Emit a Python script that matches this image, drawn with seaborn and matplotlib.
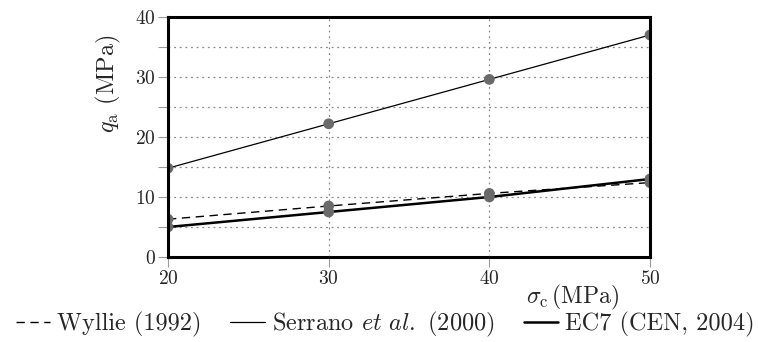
import matplotlib
matplotlib.use("Agg")
import matplotlib.pyplot as plt
import seaborn as sns
import pandas as pd
from matplotlib.ticker import MultipleLocator
from matplotlib.lines import Line2D

sigma_c = [20, 30, 40, 50]
wyllie = [6.3, 8.5, 10.6, 12.4]
serrano = [14.8, 22.2, 29.6, 37.0]
ec7 = [5.0, 7.5, 10.0, 13.0]
series_names = ["Wyllie (1992)", r"Serrano $\mathit{et\ al.}$ (2000)", "EC7 (CEN, 2004)"]

sns.set_style("white")
plt.rcParams["font.family"] = ["cmr10", "DejaVu Serif"]
plt.rcParams["mathtext.fontset"] = "cm"
plt.rcParams["axes.unicode_minus"] = False
plt.rcParams["axes.formatter.use_mathtext"] = True

df = pd.concat([
    pd.DataFrame({"sigma": sigma_c, "q": wyllie, "series": series_names[0]}),
    pd.DataFrame({"sigma": sigma_c, "q": serrano, "series": series_names[1]}),
    pd.DataFrame({"sigma": sigma_c, "q": ec7, "series": series_names[2]}),
])

fig = plt.figure(figsize=(7.58, 3.42), dpi=100)
ax = fig.add_axes([168 / 758, 85 / 342, 482 / 758, 240 / 342])

styles = {
    series_names[0]: dict(lw=1.0, ls=(0, (6, 4))),
    series_names[1]: dict(lw=0.9, ls="-"),
    series_names[2]: dict(lw=1.8, ls="-"),
}
for name in series_names:
    sub = df[df["series"] == name]
    sns.lineplot(data=sub, x="sigma", y="q", ax=ax, color="black",
                 linewidth=styles[name]["lw"], linestyle=styles[name]["ls"],
                 zorder=3, legend=False)
sns.scatterplot(data=df, x="sigma", y="q", ax=ax, color="#6a6a6a", s=60,
                edgecolor="none", zorder=4, legend=False)

ax.set_xlim(20, 50)
ax.set_ylim(0, 40)
ax.xaxis.set_major_locator(MultipleLocator(10))
ax.yaxis.set_major_locator(MultipleLocator(10))
ax.yaxis.set_minor_locator(MultipleLocator(5))
ax.grid(True, which="both", color="#8a8a8a", linestyle=(0, (1.5, 3)), linewidth=0.9)
ax.tick_params(which="both", direction="out", length=7, width=0.8, color="#9a9a9a",
               labelsize=14, left=True, bottom=True, pad=2)
for sp in ax.spines.values():
    sp.set_linewidth(2.2)
    sp.set_color("black")
    sp.set_zorder(5)

ax.set_xlabel(r"$\sigma_\mathrm{c}\,$(MPa)", fontsize=17)
ax.xaxis.set_label_coords(0.84, -0.11)
ax.set_ylabel(r"$q_\mathrm{a}$ (MPa)", fontsize=17.5)
ax.yaxis.set_label_coords(-0.093, 0.72)

handles = [Line2D([], [], color="black", **{"linewidth": styles[n]["lw"], "linestyle": styles[n]["ls"]})
           for n in series_names]
fig.legend(handles, series_names, loc="center", bbox_to_anchor=(0.508, 0.052), ncol=3,
           frameon=False, fontsize=17.5, handlelength=1.4, handletextpad=0.3,
           columnspacing=1.2, borderpad=0, borderaxespad=0)

fig.savefig("out.png", dpi=100)
